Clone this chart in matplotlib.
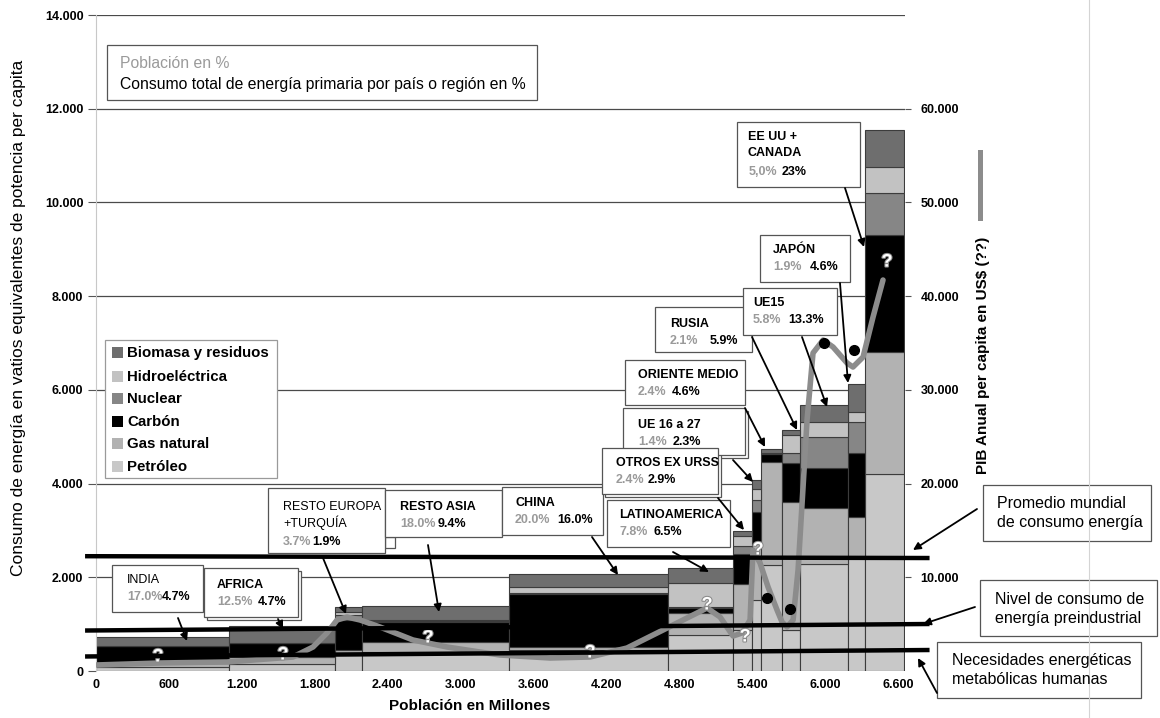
import numpy as np
import matplotlib
matplotlib.use("Agg")
import matplotlib.pyplot as plt
from matplotlib import font_manager
from matplotlib.patches import Rectangle, FancyArrowPatch
from matplotlib.lines import Line2D
import matplotlib.patheffects as pe
from matplotlib.ticker import FuncFormatter, FixedLocator

W, H = 1160, 718
names = {f.name for f in font_manager.fontManager.ttflist}
FONT = 'Liberation Sans' if 'Liberation Sans' in names else 'DejaVu Sans'
plt.rcParams['font.family'] = [FONT, 'DejaVu Sans']

# ---------------- data ----------------
regions = ["INDIA", "AFRICA", "RESTO EUROPA\n+TURQUÍA", "RESTO ASIA", "CHINA",
           "LATINOAMERICA", "OTROS EX URSS", "UE 16 a 27", "ORIENTE MEDIO",
           "RUSIA", "UE15", "JAPÓN", "EE UU +\nCANADA"]
population = [1095, 872, 222, 1210, 1309, 535, 156, 74, 173, 148, 395, 140, 321]   # millones
petroleo   = [85, 150, 384, 405, 448, 768, 875, 1515, 2262, 875, 2283, 2433, 4204]
gas        = [85, 150, 64, 213, 64, 469, 982, 1195, 2198, 2732, 1195, 854, 2603]
carbon     = [363, 299, 640, 427, 1131, 107, 640, 683, 171, 832, 854, 1366, 2497]
nuclear    = [0, 0, 107, 21, 21, 21, 171, 256, 0, 213, 662, 662, 896]
hidro      = [0, 0, 64, 21, 128, 512, 213, 235, 21, 384, 320, 213, 555]
biomasa    = [192, 363, 107, 299, 277, 320, 107, 192, 85, 107, 363, 598, 790]
pct_pop    = ["17.0%", "12.5%", "3.7%", "18.0%", "20.0%", "7.8%", "2.4%", "1.4%",
              "2.4%", "2.1%", "5.8%", "1.9%", "5,0%"]
pct_energy = ["4.7%", "4.7%", "1.9%", "9.4%", "16.0%", "6.5%", "2.9%", "2.3%",
              "4.6%", "5.9%", "13.3%", "4.6%", "23%"]

series_names = ["Petróleo", "Gas natural", "Carbón", "Nuclear", "Hidroeléctrica",
                "Biomasa y residuos"]

# PIB per capita curve (right axis)
gdp_pop = [0, 527, 1078, 1621, 1786, 1901, 1984, 2066, 2173, 2337, 2609, 2889, 3160,
           3325, 3737, 4066, 4370, 4700, 4864, 5029, 5136, 5243, 5317, 5383, 5407,
           5465, 5531, 5605, 5646, 5687, 5737, 5778, 5819, 5852, 5901, 5984, 6066,
           6181, 6230, 6313, 6395, 6477]
gdp_val = [640, 854, 960, 1494, 2561, 4055, 5442, 5762, 5442, 4695, 3308, 2561, 2027,
           1707, 1387, 1494, 2454, 4588, 5655, 6722, 5762, 3735, 4055, 5442, 12911,
           11524, 8963, 6509, 5228, 4695, 5442, 10777, 19633, 26782, 33931, 35318,
           34571, 32864, 32437, 33504, 37772, 41720]
q_pop = [510, 1539, 2733, 4066, 5029, 5342, 5449, 6510]
q_val = [1494, 1707, 3521, 1921, 7042, 3628, 12911, 43640]
dot_pop = [5523, 5712, 5992, 6239]
dot_val = [7789, 6615, 35000, 34251]

# reference levels (W per capita), left end / right end
ref_names = ["Promedio mundial\nde consumo energía",
             "Nivel de consumo de\nenergía preindustrial",
             "Necesidades energéticas\nmetabólicas humanas"]
ref_left = [2450, 864, 310]
ref_right = [2411, 1003, 448]

left_ticks = [0, 2000, 4000, 6000, 8000, 10000, 12000, 14000]
right_ticks = [10000, 20000, 30000, 40000, 50000, 60000]
x_ticks = [0, 600, 1200, 1800, 2400, 3000, 3600, 4200, 4800, 5400, 6000, 6600]

colors = ['#c8c8c8', '#b2b2b2', '#000000', '#868686', '#c2c2c2', '#6e6e6e']

# ---------------- figure ----------------
fig = plt.figure(figsize=(W / 100, H / 100), dpi=100)
fig.patch.set_facecolor('white')
ax_l, ax_r, ax_t, ax_b = 96, 905, 15, 671
ax = fig.add_axes([ax_l / W, 1 - ax_b / H, (ax_r - ax_l) / W, (ax_b - ax_t) / H])
ax.set_xlim(0, 6658)
ax.set_ylim(0, 14000)

def P(x, y):
    return (x / W, 1 - y / H)

def th(v):
    return f"{int(round(v)):,}".replace(",", ".")

# stacked bars
left_edges = np.concatenate([[0], np.cumsum(population)[:-1]])
bottom = np.zeros(len(population))
for vals, col in zip([petroleo, gas, carbon, nuclear, hidro, biomasa], colors):
    v = np.array(vals, dtype=float)
    ax.bar(left_edges, v, width=population, bottom=bottom, align='edge', color=col,
           edgecolor='#3c3c3c', linewidth=0.8, zorder=2)
    bottom += v

# axes styling
for s in ['top', 'right', 'bottom']:
    ax.spines[s].set_visible(False)
ax.spines['left'].set_color('#c8c8c8')
ax.spines['left'].set_linewidth(0.8)
ax.set_axisbelow(True)
ax.yaxis.set_major_locator(FixedLocator(left_ticks))
ax.yaxis.grid(True, color='#4a4a4a', linewidth=0.9)
ax.yaxis.set_major_formatter(FuncFormatter(lambda v, p: th(v)))
ax.tick_params(axis='y', length=6, color='#555555', width=0.8, pad=3,
               labelsize=9)
ax.xaxis.set_major_locator(FixedLocator(x_ticks))
ax.xaxis.set_major_formatter(FuncFormatter(lambda v, p: th(v)))
ax.tick_params(axis='x', length=0, pad=6, labelsize=9)
for lbl in ax.get_xticklabels() + ax.get_yticklabels():
    lbl.set_fontweight('bold')

# right axis with GDP curve
ax2 = ax.twinx()
ax2.set_ylim(0, 70000)
for s in ['top', 'left', 'bottom', 'right']:
    ax2.spines[s].set_visible(False)
ax2.yaxis.set_major_locator(FixedLocator(right_ticks))
ax2.yaxis.set_major_formatter(FuncFormatter(lambda v, p: th(v)))
ax2.tick_params(axis='y', length=4, color='#555555', width=0.8, pad=7, labelsize=9)
for lbl in ax2.get_yticklabels():
    lbl.set_fontweight('bold')
ax2.plot(gdp_pop, gdp_val, color='#8c8c8c', lw=4, solid_capstyle='round',
         solid_joinstyle='round', zorder=3)
ax2.plot(dot_pop, dot_val, 'o', color='black', ms=7, zorder=4)
for xq, yq in zip(q_pop, q_val):
    ax2.text(xq, yq, '?', color='white', fontsize=13, fontweight='bold',
             ha='center', va='center', zorder=5,
             path_effects=[pe.withStroke(linewidth=1.5, foreground='#8a8a8a')])

# reference lines (drawn above the curve)
x_ext = [-90, 6860]
for yl, yr in zip(ref_left, ref_right):
    ax2.plot(x_ext, [yl, yr], transform=ax.transData, color='black', lw=3.2,
             clip_on=False, zorder=6, solid_capstyle='butt')

# ---------------- labels ----------------
fig.text(*P(19, 318), "Consumo de energía en vatios equivalentes de potencia per capita",
         rotation=90, ha='center', va='center', fontsize=12.5)
fig.text(*P(470, 706), "Población en Millones", ha='center', va='center',
         fontsize=11, fontweight='bold')
fig.text(*P(983, 355), "PIB Anual per capita en US$ (??)", rotation=90,
         ha='center', va='center', fontsize=11, fontweight='bold')
fig.add_artist(Line2D([980 / W, 980 / W], [1 - 152 / H, 1 - 218 / H],
                      transform=fig.transFigure, color='#8c8c8c', lw=3.6))
fig.add_artist(Line2D([1089 / W, 1089 / W], [0, 1], transform=fig.transFigure,
                      color='#d4d4d4', lw=0.8))

def box(x0, y0, x1, y1, shadow=False, ec='#555555', lw=0.9):
    if shadow:
        fig.add_artist(Rectangle(P(x0 + 3, y1 + 3), (x1 - x0) / W, (y1 - y0) / H,
                                 transform=fig.transFigure, facecolor='white',
                                 edgecolor=ec, lw=lw, zorder=1))
    fig.add_artist(Rectangle(P(x0, y1), (x1 - x0) / W, (y1 - y0) / H,
                             transform=fig.transFigure, facecolor='white',
                             edgecolor=ec, lw=lw, zorder=1.1))

def arrow(x0, y0, x1, y1, lw=1.3):
    fig.add_artist(FancyArrowPatch(P(x0, y0), P(x1, y1), transform=fig.transFigure,
                                   arrowstyle='-|>', mutation_scale=11, lw=lw,
                                   color='black', shrinkA=0, shrinkB=0, zorder=4))

# info box
box(107, 45, 537, 100)
fig.text(*P(120, 63), "Población en %", color='#9a9a9a', fontsize=11.3,
         va='center', zorder=3)
fig.text(*P(120, 85), "Consumo total de energía primaria por país o región en %",
         color='black', fontsize=11.3, va='center', zorder=3)

# legend
box(105, 340, 277, 478, ec='#9a9a9a')
leg_y = [467, 444, 422, 399, 377, 353]
for name, col, yy in zip(series_names, colors, leg_y):
    fig.add_artist(Rectangle(P(112, yy + 5), 11 / W, 11 / H, transform=fig.transFigure,
                             facecolor=col, edgecolor='none', zorder=2))
    fig.text(*P(127, yy), name, fontsize=10.8, fontweight='bold', va='center', zorder=3)

# region callouts: box, text left x, line ys, pct x positions, arrow, bold name, shadow
callouts = [
    ((112, 565, 203, 612), 127, [580], (127, 162), (178, 618, 187, 641), False, False),
    ((204, 568, 298, 617), 217, [585], (217, 258), (278, 619, 283, 629), True, True),
    ((268, 488, 385, 553), 283, [507, 523], (283, 312), (323, 558, 346, 614), False, False),
    ((385, 490, 502, 537), 400, [507], (400, 438), (428, 545, 439, 612), True, False),
    ((502, 487, 603, 535), 515, [503], (515, 557), (592, 537, 618, 575), True, False),
    ((607, 500, 730, 547), 619, [515], (619, 653), (673, 552, 709, 572), True, False),
    ((602, 448, 718, 494), 616, [463], (616, 648), (718, 498, 744, 530), True, True),
    ((623, 408, 745, 455), 638, [425], (638, 673), (733, 460, 753, 482), True, True),
    ((625, 360, 745, 405), 638, [375], (638, 672), (745, 408, 765, 447), True, False),
    ((655, 307, 752, 352), 670, [324], (670, 710), (752, 337, 797, 430), True, False),
    ((743, 288, 837, 335), 753, [303], (753, 788), (802, 337, 827, 407), True, False),
    ((760, 235, 850, 282), 773, [250], (773, 810), (840, 283, 848, 383), True, False),
    ((737, 122, 860, 187), 748, [137, 153], (749, 782), (845, 188, 864, 247), True, False),
]
draw_order = [0, 1, 2, 3, 4, 7, 6, 5, 8, 9, 10, 11, 12]
for i in draw_order:
    (x0, y0, x1, y1), tx, ys, (px1, px2), arr, bold, shadow = callouts[i]
    box(x0, y0, x1, y1, shadow=shadow)
    for line, yy in zip(regions[i].split("\n"), ys):
        fig.text(*P(tx, yy), line, fontsize=9, fontweight='bold' if bold else 'normal',
                 va='center', zorder=3)
    yp = ys[-1] + (17 if len(ys) == 1 else 19)
    fig.text(*P(px1, yp), pct_pop[i], fontsize=9, fontweight='bold', color='#9a9a9a',
             va='center', zorder=3)
    fig.text(*P(px2, yp), pct_energy[i], fontsize=9, fontweight='bold', color='black',
             va='center', zorder=3)
    arrow(*arr)
fig.add_artist(Rectangle(P(385, 548), 10 / W, 11 / H, transform=fig.transFigure,
                         facecolor='white', edgecolor='#555555', lw=0.9, zorder=1))

# reference level boxes on the right
ref_boxes = [((983, 485, 1151, 541), 997, (503, 523), (977, 509, 913, 550)),
             ((980, 580, 1157, 636), 995, (599, 619), (975, 607, 923, 624)),
             ((937, 642, 1141, 698), 952, (660, 680), (937, 693, 918, 658))]
for name, ((x0, y0, x1, y1), tx, ys, arr) in zip(ref_names, ref_boxes):
    box(x0, y0, x1, y1)
    for line, yy in zip(name.split("\n"), ys):
        fig.text(*P(tx, yy), line, fontsize=11.5, va='center', zorder=3)
    arrow(*arr)

fig.savefig("out.png", dpi=100, facecolor='white')
